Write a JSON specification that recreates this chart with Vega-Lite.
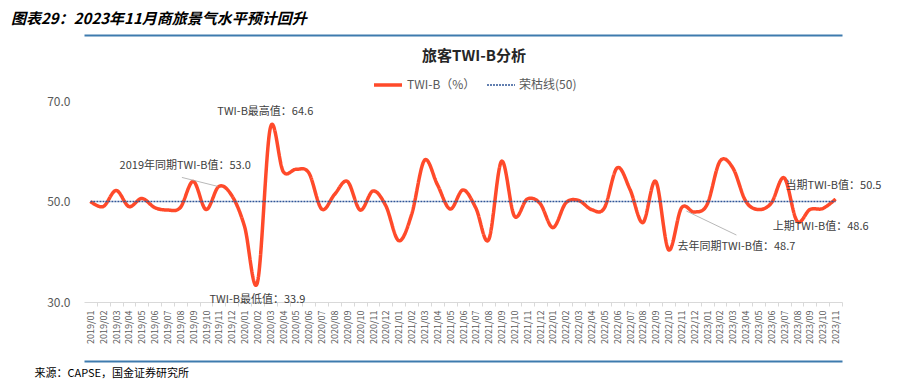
{
  "$schema": "https://vega.github.io/schema/vega-lite/v6.json",
  "width": 758,
  "height": 201,
  "autosize": {"type": "none"},
  "padding": {"left": 84, "top": 101, "right": 72, "bottom": 82},
  "background": "white",
  "title": {
    "text": "图表29：2023年11月商旅景气水平预计回升",
    "anchor": "start",
    "frame": "group",
    "dx": -73,
    "offset": 8,
    "font": "Noto Sans CJK SC",
    "fontSize": 15,
    "fontWeight": "bold",
    "fontStyle": "italic",
    "color": "#000000"
  },
  "config": {"view": {"stroke": null}, "font": "Noto Sans CJK SC"},
  "datasets": {
    "twi": [
      {"month": "2019/01", "twib": 50.0, "line50": 50},
      {"month": "2019/02", "twib": 49.0, "line50": 50},
      {"month": "2019/03", "twib": 52.2, "line50": 50},
      {"month": "2019/04", "twib": 49.0, "line50": 50},
      {"month": "2019/05", "twib": 50.6, "line50": 50},
      {"month": "2019/06", "twib": 48.8, "line50": 50},
      {"month": "2019/07", "twib": 48.3, "line50": 50},
      {"month": "2019/08", "twib": 48.8, "line50": 50},
      {"month": "2019/09", "twib": 54.0, "line50": 50},
      {"month": "2019/10", "twib": 48.4, "line50": 50},
      {"month": "2019/11", "twib": 53.0, "line50": 50},
      {"month": "2019/12", "twib": 51.2, "line50": 50},
      {"month": "2020/01", "twib": 45.0, "line50": 50},
      {"month": "2020/02", "twib": 33.9, "line50": 50},
      {"month": "2020/03", "twib": 64.6, "line50": 50},
      {"month": "2020/04", "twib": 56.0, "line50": 50},
      {"month": "2020/05", "twib": 56.4, "line50": 50},
      {"month": "2020/06", "twib": 55.7, "line50": 50},
      {"month": "2020/07", "twib": 48.5, "line50": 50},
      {"month": "2020/08", "twib": 51.4, "line50": 50},
      {"month": "2020/09", "twib": 54.0, "line50": 50},
      {"month": "2020/10", "twib": 48.3, "line50": 50},
      {"month": "2020/11", "twib": 52.1, "line50": 50},
      {"month": "2020/12", "twib": 49.1, "line50": 50},
      {"month": "2021/01", "twib": 42.2, "line50": 50},
      {"month": "2021/02", "twib": 47.4, "line50": 50},
      {"month": "2021/03", "twib": 58.2, "line50": 50},
      {"month": "2021/04", "twib": 53.4, "line50": 50},
      {"month": "2021/05", "twib": 48.5, "line50": 50},
      {"month": "2021/06", "twib": 52.3, "line50": 50},
      {"month": "2021/07", "twib": 48.7, "line50": 50},
      {"month": "2021/08", "twib": 42.4, "line50": 50},
      {"month": "2021/09", "twib": 58.0, "line50": 50},
      {"month": "2021/10", "twib": 47.1, "line50": 50},
      {"month": "2021/11", "twib": 50.5, "line50": 50},
      {"month": "2021/12", "twib": 49.6, "line50": 50},
      {"month": "2022/01", "twib": 44.8, "line50": 50},
      {"month": "2022/02", "twib": 49.7, "line50": 50},
      {"month": "2022/03", "twib": 50.2, "line50": 50},
      {"month": "2022/04", "twib": 48.4, "line50": 50},
      {"month": "2022/05", "twib": 48.7, "line50": 50},
      {"month": "2022/06", "twib": 56.7, "line50": 50},
      {"month": "2022/07", "twib": 52.4, "line50": 50},
      {"month": "2022/08", "twib": 45.8, "line50": 50},
      {"month": "2022/09", "twib": 54.0, "line50": 50},
      {"month": "2022/10", "twib": 40.4, "line50": 50},
      {"month": "2022/11", "twib": 48.7, "line50": 50},
      {"month": "2022/12", "twib": 47.9, "line50": 50},
      {"month": "2023/01", "twib": 49.4, "line50": 50},
      {"month": "2023/02", "twib": 58.0, "line50": 50},
      {"month": "2023/03", "twib": 56.7, "line50": 50},
      {"month": "2023/04", "twib": 50.1, "line50": 50},
      {"month": "2023/05", "twib": 48.4, "line50": 50},
      {"month": "2023/06", "twib": 49.7, "line50": 50},
      {"month": "2023/07", "twib": 54.7, "line50": 50},
      {"month": "2023/08", "twib": 46.1, "line50": 50},
      {"month": "2023/09", "twib": 48.4, "line50": 50},
      {"month": "2023/10", "twib": 48.6, "line50": 50},
      {"month": "2023/11", "twib": 50.5, "line50": 50}
    ],
    "notes": [
      {"month": "2020/03", "value": 64.6, "label": "TWI-B最高值：64.6"},
      {"month": "2019/11", "value": 53.0, "label": "2019年同期TWI-B值：53.0"},
      {"month": "2020/02", "value": 33.9, "label": "TWI-B最低值：33.9"},
      {"month": "2022/11", "value": 48.7, "label": "去年同期TWI-B值：48.7"},
      {"month": "2023/11", "value": 50.5, "label": "当期TWI-B值：50.5"},
      {"month": "2023/10", "value": 48.6, "label": "上期TWI-B值：48.6"}
    ]
  },
  "layer": [
    {
      "data": {"name": "twi"},
      "transform": [{"fold": ["twib", "line50"], "as": ["series", "value"]}],
      "mark": {"type": "line", "interpolate": "cardinal"},
      "encoding": {
        "x": {
          "field": "month", "type": "ordinal",
          "scale": {"type": "point", "padding": 0.5},
          "axis": {
            "title": null, "labelAngle": -90, "labelFontSize": 9, "labelColor": "#595959",
            "labelPadding": 4, "domainColor": "#d9d9d9", "tickColor": "#d9d9d9", "tickSize": 4,
            "tickOffset": 6.42, "labelOffset": -6.42, "grid": false
          }
        },
        "y": {
          "field": "value", "type": "quantitative",
          "scale": {"domain": [30, 70], "nice": false, "zero": false},
          "axis": {
            "title": null, "values": [30, 50, 70], "format": ".1f", "domain": false, "ticks": false,
            "grid": false, "labelFontSize": 12, "labelColor": "#595959", "labelPadding": 14
          }
        },
        "color": {
          "field": "series", "type": "ordinal",
          "scale": {"domain": ["twib", "line50"], "range": ["#FF4A2A", "#2F5597"]},
          "legend": {
            "title": "旅客TWI-B分析", "orient": "none", "legendX": 288, "legendY": -52,
            "direction": "horizontal", "titleFontSize": 15, "titleFontWeight": "bold",
            "titleColor": "#262626", "titleAnchor": "middle", "titlePadding": 5,
            "labelFontSize": 12, "labelColor": "#595959", "symbolType": "stroke", "symbolSize": 784,
            "labelOffset": 3, "columnPadding": 8,
            "labelExpr": "datum.label == 'twib' ? 'TWI-B（%）' : '荣枯线(50)'"
          }
        },
        "strokeDash": {
          "field": "series", "type": "ordinal",
          "scale": {"domain": ["twib", "line50"], "range": [[1, 0], [2, 1]]},
          "legend": {
            "title": "旅客TWI-B分析", "orient": "none", "legendX": 288, "legendY": -52,
            "direction": "horizontal", "titleFontSize": 15, "titleFontWeight": "bold",
            "titleColor": "#262626", "titleAnchor": "middle", "titlePadding": 5,
            "labelFontSize": 12, "labelColor": "#595959", "symbolType": "stroke", "symbolSize": 784,
            "labelOffset": 3, "columnPadding": 8,
            "labelExpr": "datum.label == 'twib' ? 'TWI-B（%）' : '荣枯线(50)'"
          }
        },
        "strokeWidth": {
          "field": "series", "type": "ordinal",
          "scale": {"domain": ["twib", "line50"], "range": [3.5, 1.5]},
          "legend": {
            "title": "旅客TWI-B分析", "orient": "none", "legendX": 288, "legendY": -52,
            "direction": "horizontal", "titleFontSize": 15, "titleFontWeight": "bold",
            "titleColor": "#262626", "titleAnchor": "middle", "titlePadding": 5,
            "labelFontSize": 12, "labelColor": "#595959", "symbolType": "stroke", "symbolSize": 784,
            "labelOffset": 3, "columnPadding": 8,
            "labelExpr": "datum.label == 'twib' ? 'TWI-B（%）' : '荣枯线(50)'"
          }
        }
      }
    },
    {
      "data": {"name": "notes"},
      "transform": [{"filter": "datum.month == '2020/03'"}],
      "mark": {"type": "text", "align": "center", "baseline": "middle", "dx": -5, "dy": -16, "fontSize": 11, "color": "#404040"},
      "encoding": {
        "x": {"field": "month", "type": "ordinal", "axis": {"orient": "top", "offset": 66, "domainColor": "#3E7BAE", "domainWidth": 2, "labels": false, "ticks": false, "title": null, "grid": false}},
        "y": {"field": "value", "type": "quantitative", "axis": null},
        "text": {"field": "label"}
      }
    },
    {
      "data": {"name": "notes"},
      "transform": [{"filter": "datum.month == '2020/02'"}],
      "mark": {"type": "text", "align": "center", "baseline": "middle", "dx": 0, "dy": 18, "fontSize": 11, "color": "#404040"},
      "encoding": {
        "x": {"field": "month", "type": "ordinal", "axis": {
          "orient": "bottom", "offset": 59, "domainColor": "#3E7BAE", "domainWidth": 2, "labels": false, "ticks": false, "grid": false,
          "title": "来源：CAPSE，国金证券研究所", "titleX": -50, "titleY": 12, "titleAlign": "left", "titleAnchor": "start",
          "titleBaseline": "middle", "titleFontWeight": "normal", "titleFontSize": 11, "titleColor": "#000000", "titleFont": "Noto Sans CJK SC"
        }},
        "y": {"field": "value", "type": "quantitative", "axis": null},
        "text": {"field": "label"}
      }
    },
    {
      "data": {"name": "notes"},
      "transform": [{"filter": "datum.month == '2019/11'"}],
      "mark": {"type": "text", "align": "right", "baseline": "middle", "dx": 32, "dy": -20, "fontSize": 11, "color": "#404040"},
      "encoding": {
        "x": {"field": "month", "type": "ordinal", "axis": null},
        "y": {"field": "value", "type": "quantitative", "axis": null},
        "text": {"field": "label"}
      }
    },
    {
      "data": {"name": "notes"},
      "transform": [{"filter": "datum.month == '2022/11'"}],
      "mark": {"type": "text", "align": "left", "baseline": "middle", "dx": -4, "dy": 39, "fontSize": 11, "color": "#404040"},
      "encoding": {
        "x": {"field": "month", "type": "ordinal", "axis": null},
        "y": {"field": "value", "type": "quantitative", "axis": null},
        "text": {"field": "label"}
      }
    },
    {
      "data": {"name": "notes"},
      "transform": [{"filter": "datum.month == '2023/11'"}],
      "mark": {"type": "text", "align": "left", "baseline": "middle", "dx": -50, "dy": -13, "fontSize": 11, "color": "#404040"},
      "encoding": {
        "x": {"field": "month", "type": "ordinal", "axis": null},
        "y": {"field": "value", "type": "quantitative", "axis": null},
        "text": {"field": "label"}
      }
    },
    {
      "data": {"name": "notes"},
      "transform": [{"filter": "datum.month == '2023/10'"}],
      "mark": {"type": "text", "align": "left", "baseline": "middle", "dx": -50, "dy": 18, "fontSize": 11, "color": "#404040"},
      "encoding": {
        "x": {"field": "month", "type": "ordinal", "axis": null},
        "y": {"field": "value", "type": "quantitative", "axis": null},
        "text": {"field": "label"}
      }
    },
    {
      "data": {"name": "notes"},
      "transform": [{"filter": "datum.month == '2019/11'"}],
      "mark": {"type": "rule", "color": "#a6a6a6", "strokeWidth": 0.8, "xOffset": -1, "yOffset": 0, "x2Offset": -37, "y2Offset": -9},
      "encoding": {
        "x": {"field": "month", "type": "ordinal", "axis": null},
        "x2": {"field": "month"},
        "y": {"field": "value", "type": "quantitative", "axis": null},
        "y2": {"field": "value"}
      }
    },
    {
      "data": {"name": "notes"},
      "transform": [{"filter": "datum.month == '2022/11'"}],
      "mark": {"type": "rule", "color": "#a6a6a6", "strokeWidth": 0.8, "xOffset": 5, "yOffset": 3, "x2Offset": 55, "y2Offset": 27},
      "encoding": {
        "x": {"field": "month", "type": "ordinal", "axis": null},
        "x2": {"field": "month"},
        "y": {"field": "value", "type": "quantitative", "axis": null},
        "y2": {"field": "value"}
      }
    }
  ],
  "resolve": {"axis": {"x": "independent", "y": "independent"}}
}
